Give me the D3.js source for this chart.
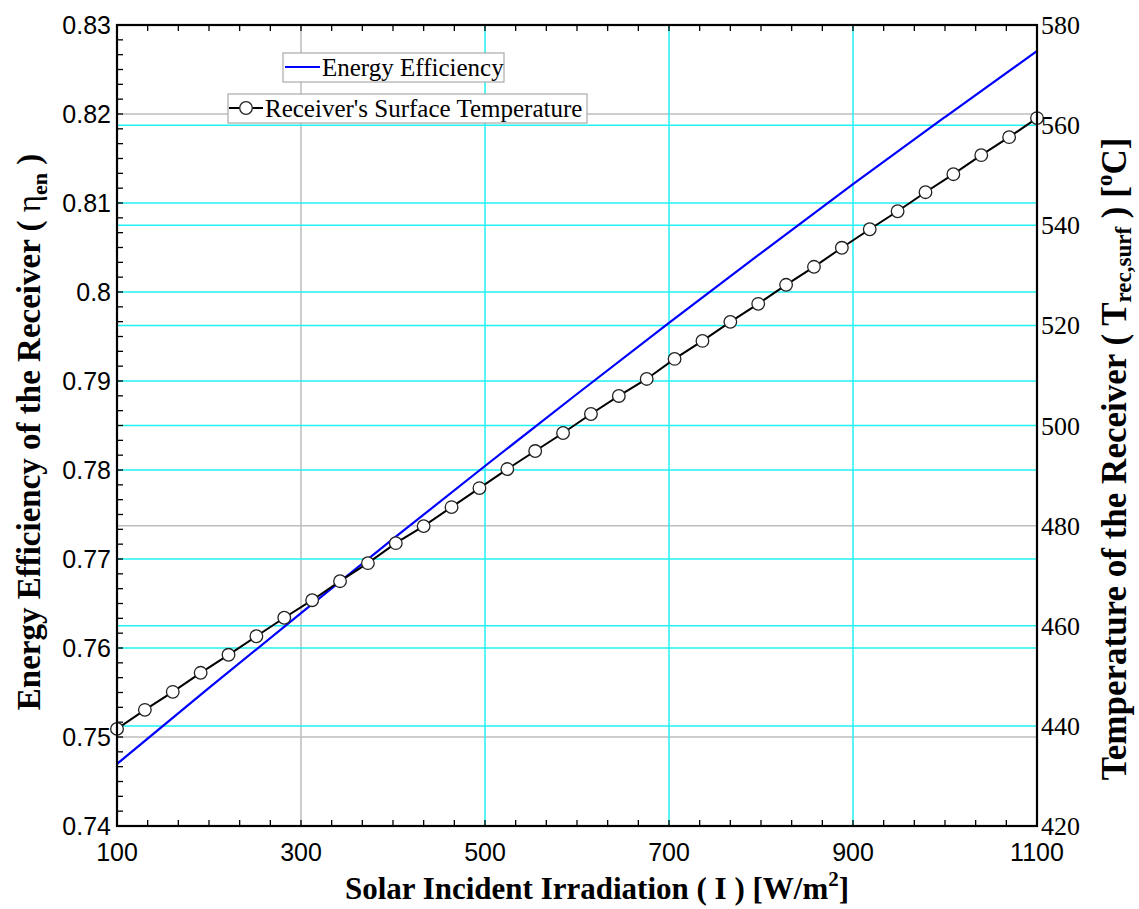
<!DOCTYPE html>
<html>
<head>
<meta charset="utf-8">
<script src="https://cdn.jsdelivr.net/npm/d3@7"></script>
<style>
  body { margin: 0; background: #fff; }
  svg { display: block; }
</style>
</head>
<body>
<div id="chart"></div>
<script>
// irradiation values for the efficiency curve
const effX = [100, 200, 300, 400, 500, 600, 700, 800, 900, 1000, 1100];
const effY = [0.74697, 0.75551, 0.76393, 0.77225, 0.78045, 0.78854, 0.79652, 0.80438, 0.81213, 0.81966, 0.82708];

// receiver surface temperature, 34 points from 100 to 1100
const tempY = [439.4, 443.2, 446.8, 450.6, 454.2, 457.9, 461.6, 465.1, 468.9, 472.5,
  476.5, 479.9, 483.7, 487.5, 491.3, 494.9, 498.5, 502.3, 505.9, 509.3,
  513.3, 516.9, 520.7, 524.3, 528.1, 531.7, 535.5, 539.2, 542.8, 546.6,
  550.2, 554.0, 557.6, 561.4];
const tempX = tempY.map((d, i) => 100 + i * 1000 / 33);

const xTicks = [100, 300, 500, 700, 900, 1100];
const leftTicks = [0.74, 0.75, 0.76, 0.77, 0.78, 0.79, 0.8, 0.81, 0.82, 0.83];
const rightTicks = [420, 440, 460, 480, 500, 520, 540, 560, 580];

// grid lines (gray / cyan mix as in the original)
const xGridGray = [300];
const xGridCyan = [500, 700, 900];
const leftGridGray = [0.82, 0.75];
const leftGridCyan = [0.81, 0.8, 0.79, 0.78, 0.77, 0.76];
const rightGridGray = [480];
const rightGridCyan = [560, 540, 520, 500, 460, 440];

const W = 1139, H = 909;
const plot = { left: 117, right: 1037, top: 25, bottom: 826 };

const svg = d3.select("#chart").append("svg")
  .attr("width", W).attr("height", H);

const x = d3.scaleLinear().domain([100, 1100]).range([plot.left, plot.right]);
const yL = d3.scaleLinear().domain([0.74, 0.83]).range([plot.bottom, plot.top]);
const yR = d3.scaleLinear().domain([420, 580]).range([plot.bottom, plot.top]);

const GRAY = "#bdbdbd", CYAN = "#22f2f2";

// grids
const grid = svg.append("g");
function hLines(vals, scale, color) {
  grid.selectAll(null).data(vals).enter().append("line")
    .attr("x1", plot.left).attr("x2", plot.right)
    .attr("y1", d => scale(d)).attr("y2", d => scale(d))
    .attr("stroke", color).attr("stroke-width", 1.5);
}
function vLines(vals, color) {
  grid.selectAll(null).data(vals).enter().append("line")
    .attr("y1", plot.top).attr("y2", plot.bottom)
    .attr("x1", d => x(d)).attr("x2", d => x(d))
    .attr("stroke", color).attr("stroke-width", 1.5);
}
hLines(leftGridGray, yL, GRAY);
hLines(rightGridGray, yR, GRAY);
vLines(xGridGray, GRAY);
hLines(leftGridCyan, yL, CYAN);
hLines(rightGridCyan, yR, CYAN);
vLines(xGridCyan, CYAN);

// minor/major ticks, tecplot style (6 minor steps per major)
const xMinor = d3.range(0, 31).map(i => 100 + i * 200 / 6);
const yMinor = d3.range(0, 55).map(i => 0.74 + i * 0.01 / 6);
const ticks = svg.append("g").attr("stroke", "#000").attr("stroke-width", 1.3);
ticks.selectAll(null).data(xMinor).enter().append("line")
  .attr("x1", d => x(d)).attr("x2", d => x(d))
  .attr("y1", plot.bottom).attr("y2", plot.bottom - 6);
ticks.selectAll(null).data(xMinor).enter().append("line")
  .attr("x1", d => x(d)).attr("x2", d => x(d))
  .attr("y1", plot.top).attr("y2", plot.top + 6);
ticks.selectAll(null).data(yMinor).enter().append("line")
  .attr("y1", d => yL(d)).attr("y2", d => yL(d))
  .attr("x1", plot.left).attr("x2", plot.left + 6);

// data lines
const effLine = d3.line()
  .x((d, i) => x(effX[i]))
  .y(d => yL(d))
  .curve(d3.curveMonotoneX);
svg.append("path").datum(effY)
  .attr("d", effLine)
  .attr("fill", "none").attr("stroke", "#0000ff").attr("stroke-width", 2.2);

const tempLine = d3.line()
  .x((d, i) => x(tempX[i]))
  .y(d => yR(d));
svg.append("path").datum(tempY)
  .attr("d", tempLine)
  .attr("fill", "none").attr("stroke", "#000").attr("stroke-width", 2);

svg.append("g").selectAll("circle").data(tempY).enter().append("circle")
  .attr("cx", (d, i) => x(tempX[i]))
  .attr("cy", d => yR(d))
  .attr("r", 6.3)
  .attr("fill", "#fff").attr("stroke", "#222").attr("stroke-width", 1.3);

// frame
svg.append("rect")
  .attr("x", plot.left).attr("y", plot.top)
  .attr("width", plot.right - plot.left).attr("height", plot.bottom - plot.top)
  .attr("fill", "none").attr("stroke", "#000").attr("stroke-width", 2.2);

// tick labels
const sans = "'Liberation Sans', Arial, sans-serif";
const serif = "'Liberation Serif', 'Times New Roman', serif";

svg.append("g").selectAll("text").data(xTicks).enter().append("text")
  .attr("x", d => x(d)).attr("y", 861)
  .attr("text-anchor", "middle")
  .style("font-family", sans).style("font-size", "25px")
  .text(d => d);

svg.append("g").selectAll("text").data(leftTicks).enter().append("text")
  .attr("x", plot.left - 6).attr("y", d => yL(d))
  .attr("dy", "0.35em")
  .attr("text-anchor", "end")
  .style("font-family", sans).style("font-size", "25px")
  .text(d => d3.format("")(+d.toFixed(2)));

svg.append("g").selectAll("text").data(rightTicks).enter().append("text")
  .attr("x", plot.right + 4).attr("y", d => yR(d))
  .attr("dy", "0.35em")
  .style("font-family", serif).style("font-size", "26px")
  .text(d => d);

// axis titles
const bottomTitle = svg.append("text")
  .attr("x", 597).attr("y", 899)
  .attr("text-anchor", "middle")
  .style("font-family", serif).style("font-size", "31px").style("font-weight", "bold")
  .text("Solar Incident Irradiation ( I ) [W/m");
bottomTitle.append("tspan").attr("dy", -13).style("font-size", "21px").text("2");
bottomTitle.append("tspan").attr("dy", 13).text("]");

const leftTitle = svg.append("text")
  .attr("transform", "translate(40,432) rotate(-90)")
  .attr("text-anchor", "middle")
  .style("font-family", serif).style("font-size", "33px").style("font-weight", "bold")
  .text("Energy Efficiency of the Receiver ( ");
leftTitle.append("tspan").style("font-weight", "normal").text("η");
leftTitle.append("tspan").attr("dy", 7).style("font-size", "22px").text("en");
leftTitle.append("tspan").attr("dy", -7).text(" )");

const rightTitle = svg.append("text")
  .attr("transform", "translate(1126,459) rotate(-90)")
  .attr("text-anchor", "middle")
  .style("font-family", serif).style("font-size", "35px").style("font-weight", "bold")
  .text("Temperature of the Receiver ( T");
rightTitle.append("tspan").attr("dy", 5).style("font-size", "23px").text("rec,surf");
rightTitle.append("tspan").attr("dy", -5).text(" ) [");
rightTitle.append("tspan").attr("dy", -14).style("font-size", "23px").text("o");
rightTitle.append("tspan").attr("dy", 14).text("C]");

// legend
const legend = svg.append("g").style("font-family", serif).style("font-size", "25px");
legend.append("rect")
  .attr("x", 283).attr("y", 53).attr("width", 221).attr("height", 29)
  .attr("fill", "#fff").attr("stroke", "#aaa").attr("stroke-width", 1.2);
legend.append("line")
  .attr("x1", 285).attr("x2", 320).attr("y1", 67).attr("y2", 67)
  .attr("stroke", "#0000ff").attr("stroke-width", 2.2);
legend.append("text").attr("x", 322).attr("y", 76).text("Energy Efficiency");

legend.append("rect")
  .attr("x", 228).attr("y", 94).attr("width", 359).attr("height", 29)
  .attr("fill", "#fff").attr("stroke", "#aaa").attr("stroke-width", 1.2);
legend.append("line")
  .attr("x1", 229).attr("x2", 263).attr("y1", 108).attr("y2", 108)
  .attr("stroke", "#000").attr("stroke-width", 2);
legend.append("circle")
  .attr("cx", 246).attr("cy", 108).attr("r", 6.3)
  .attr("fill", "#fff").attr("stroke", "#222").attr("stroke-width", 1.3);
legend.append("text").attr("x", 265).attr("y", 117).text("Receiver's Surface Temperature");
</script>
</body>
</html>
